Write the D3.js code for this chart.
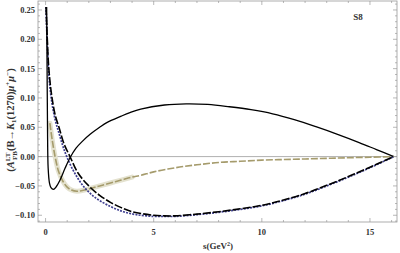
<!DOCTYPE html>
<html>
<head>
<meta charset="utf-8">
<script src="https://d3js.org/d3.v7.min.js"></script>
<style>
  body { margin: 0; background: #fff; }
  svg text { font-family: "Liberation Serif", "DejaVu Serif", serif; font-weight: bold; fill: #333; }
</style>
</head>
<body>
<div id="chart"></div>
<script>
// solid black curve
var solidS = [0.05, 0.07, 0.09, 0.12, 0.18, 0.25, 0.36, 0.5, 0.67, 0.9, 1.13, 1.4, 1.7, 2.06, 2.5, 2.83, 3.5, 3.9, 4.4, 5.5, 6.5, 7.5, 8.5, 9.5, 10.5, 11.5, 12.5, 13.5, 14.5, 15.3, 16.1];
var solidV = [0.255, 0.15, 0.05, -0.02, -0.045, -0.053, -0.056, -0.051, -0.040, -0.020, -0.002, 0.014, 0.026, 0.038, 0.050, 0.058, 0.069, 0.075, 0.081, 0.088, 0.090, 0.089, 0.085, 0.080, 0.073, 0.063, 0.051, 0.038, 0.024, 0.012, 0];

// black dashed curve
var dashS = [0.02, 0.08, 0.15, 0.28, 0.45, 0.62, 0.85, 1.13, 1.5, 2.0, 2.5, 3.0, 3.5, 4.0, 5.0, 5.5, 6.0, 7.0, 8.0, 9.0, 10, 11, 12, 13, 14, 15, 16.1];
var dashV = [0.255, 0.2, 0.15, 0.105, 0.07, 0.05, 0.022, 0, -0.028, -0.05, -0.066, -0.078, -0.087, -0.094, -0.100, -0.101, -0.101, -0.098, -0.094, -0.089, -0.083, -0.074, -0.063, -0.049, -0.034, -0.018, 0];

// blue dotted curve
var dotS = [0.02, 0.08, 0.15, 0.28, 0.45, 0.62, 0.8, 0.98, 1.3, 1.74, 2.3, 3.0, 3.6, 4.2, 5.0, 5.5, 6.0, 7.0, 8.0, 9.0, 10, 11, 12, 13, 14, 15, 16.1];
var dotV = [0.255, 0.19, 0.14, 0.095, 0.062, 0.04, 0.018, 0, -0.025, -0.05, -0.07, -0.085, -0.094, -0.099, -0.102, -0.102, -0.102, -0.099, -0.095, -0.090, -0.084, -0.075, -0.064, -0.050, -0.035, -0.019, 0];

// olive dashed curve
var oliveS = [0.2, 0.3, 0.44, 0.6, 0.8, 1.0, 1.2, 1.45, 1.8, 2.2, 2.5, 3.0, 3.5, 4.0, 4.4, 5, 6, 7, 8, 9, 10, 11, 12, 13, 14, 15, 16.1];
var oliveV = [0.057, 0.03, 0, -0.025, -0.042, -0.052, -0.057, -0.059, -0.057, -0.053, -0.050, -0.045, -0.040, -0.035, -0.032, -0.026, -0.019, -0.014, -0.010, -0.008, -0.006, -0.005, -0.004, -0.003, -0.002, -0.001, 0];

var xTicks = [0, 5, 10, 15];
var yTicks = [-0.10, -0.05, 0.00, 0.05, 0.10, 0.15, 0.20, 0.25];

var W = 400, H = 253;
var mLeft = 38, mRight = 397, mTop = 1, mBottom = 222;

var svg = d3.select("#chart").append("svg")
  .attr("width", W).attr("height", H);

var x = d3.scaleLinear().domain([-0.35, 16.25]).range([mLeft, mRight]);
var y = d3.scaleLinear().domain([-0.1115, 0.2653]).range([mBottom, mTop]);

function pts(s, v) { return s.map(function (d, i) { return [d, v[i]]; }); }
var lineN = d3.line().x(function (d) { return x(d[0]); }).y(function (d) { return y(d[1]); }).curve(d3.curveCatmullRom);

svg.append("defs").append("clipPath").attr("id", "clip")
  .append("rect").attr("x", mLeft).attr("y", mTop).attr("width", mRight - mLeft).attr("height", mBottom - mTop);

// zero axis
svg.append("line")
  .attr("x1", mLeft).attr("x2", mRight)
  .attr("y1", y(0)).attr("y2", y(0))
  .attr("stroke", "#9a9a9a").attr("stroke-width", 0.8);

var g = svg.append("g").attr("clip-path", "url(#clip)");

// olive band
var band = pts(oliveS, oliveV).filter(function (d) { return d[0] <= 4; });
g.append("path").attr("d", lineN(band))
  .attr("fill", "none").attr("stroke", "#e4e2cf").attr("stroke-width", 5).attr("stroke-linecap", "round");

g.append("path").attr("d", lineN(pts(oliveS, oliveV)))
  .attr("fill", "none").attr("stroke", "#a59b6c").attr("stroke-width", 1.6)
  .attr("stroke-dasharray", "7,2");

g.append("path").attr("d", lineN(pts(dotS, dotV)))
  .attr("fill", "none").attr("stroke", "#3d3d8f").attr("stroke-width", 1.7)
  .attr("stroke-dasharray", "2,1.2");

g.append("path").attr("d", lineN(pts(dashS, dashV)))
  .attr("fill", "none").attr("stroke", "#000").attr("stroke-width", 1.6)
  .attr("stroke-dasharray", "8,2");

g.append("path").attr("d", lineN(pts(solidS, solidV)))
  .attr("fill", "none").attr("stroke", "#000").attr("stroke-width", 1.3);

// frame
svg.append("rect")
  .attr("x", mLeft).attr("y", mTop).attr("width", mRight - mLeft).attr("height", mBottom - mTop)
  .attr("fill", "none").attr("stroke", "#999").attr("stroke-width", 0.8);

// ticks
var ax = svg.append("g").attr("stroke", "#999").attr("stroke-width", 0.7);
d3.range(0, 17, 1).forEach(function (t) {
  var len = t % 5 === 0 ? 4 : 2;
  ax.append("line").attr("x1", x(t)).attr("x2", x(t)).attr("y1", mBottom).attr("y2", mBottom - len);
  ax.append("line").attr("x1", x(t)).attr("x2", x(t)).attr("y1", mTop).attr("y2", mTop + len);
});
d3.range(-11, 27, 1).forEach(function (k) {
  var t = k / 100;
  var len = k % 5 === 0 ? 4 : 2;
  ax.append("line").attr("y1", y(t)).attr("y2", y(t)).attr("x1", mLeft).attr("x2", mLeft + len);
  ax.append("line").attr("y1", y(t)).attr("y2", y(t)).attr("x1", mRight).attr("x2", mRight - len);
});

// tick labels
svg.selectAll(".xt").data(xTicks).enter().append("text")
  .attr("x", function (d) { return x(d); }).attr("y", 235)
  .attr("text-anchor", "middle").attr("font-size", "8.5px")
  .text(function (d) { return d; });

svg.selectAll(".yt").data(yTicks).enter().append("text")
  .attr("x", 35).attr("y", function (d) { return y(d) + 3; })
  .attr("text-anchor", "end").attr("font-size", "8.5px")
  .text(function (d) { return d3.format(".2f")(d).replace("-", "\u2212"); });

// axis titles
var xl = svg.append("text").attr("x", 218).attr("y", 249).attr("text-anchor", "middle").attr("font-size", "9px");
xl.append("tspan").text("s(GeV");
xl.append("tspan").attr("dy", -3.5).attr("font-size", "6px").text("2");
xl.append("tspan").attr("dy", 3.5).text(")");

var yl = svg.append("text").attr("transform", "translate(14,120) rotate(-90)")
  .attr("text-anchor", "middle").attr("font-size", "10.5px");
yl.append("tspan").text("(");
yl.append("tspan").attr("font-style", "italic").text("A");
yl.append("tspan").attr("dy", -4.5).attr("font-size", "7px").text("LT");
yl.append("tspan").attr("dx", -7.5).attr("dy", 7.5).attr("font-size", "7px").text("FB");
yl.append("tspan").attr("dy", -3).text("(B\u2192");
yl.append("tspan").attr("font-style", "italic").text("K");
yl.append("tspan").attr("dy", 2).attr("font-size", "7px").text("1");
yl.append("tspan").attr("dy", -2).text("(1270)");
yl.append("tspan").attr("font-style", "italic").text("\u03bc");
yl.append("tspan").attr("dy", -4.5).attr("font-size", "7px").text("+");
yl.append("tspan").attr("dy", 4.5).attr("font-style", "italic").text("\u03bc");
yl.append("tspan").attr("dy", -4.5).attr("font-size", "7px").text("\u2212");
yl.append("tspan").attr("dy", 4.5).text(")");

svg.append("text").attr("x", 358).attr("y", 20).attr("text-anchor", "middle")
  .attr("font-size", "9px").text("S8");
</script>
</body>
</html>
